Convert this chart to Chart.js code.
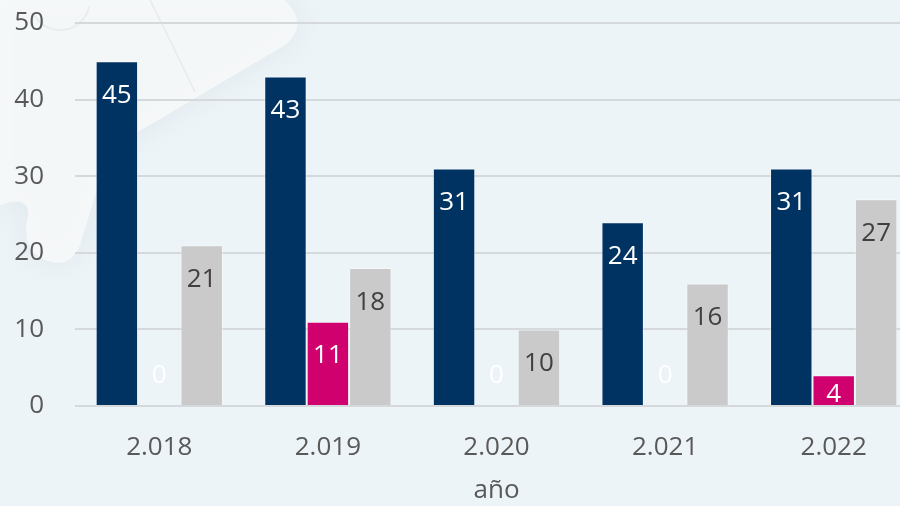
<!DOCTYPE html>
<html>
<head>
<meta charset="utf-8">
<script src="https://cdn.jsdelivr.net/npm/chart.js@4/dist/chart.umd.min.js"></script>
<style>
  html, body { margin: 0; padding: 0; width: 900px; height: 506px; overflow: hidden; background: #EDF4F8; }
  #wrap { width: 918px; height: 506px; }
</style>
</head>
<body>
<div id="wrap"><canvas id="c" width="918" height="506"></canvas></div>
<script>
const categories = ['2.018', '2.019', '2.020', '2.021', '2.022'];
const seriesNavy = [45, 43, 31, 24, 31];
const seriesMagenta = [0, 11, 0, 0, 4];
const seriesGray = [21, 18, 10, 16, 27];
const yTicks = [0, 10, 20, 30, 40, 50];
const axisTitle = 'año';

const FONT = '"Open Sans", "Noto Sans", sans-serif';

const bgPlugin = {
  id: 'bg',
  beforeDraw(chart) {
    const ctx = chart.ctx;
    ctx.save();
    ctx.fillStyle = '#EDF4F8';
    ctx.fillRect(0, 0, chart.width, chart.height);
    // faint puzzle piece top-left
    ctx.shadowColor = 'rgba(205,215,220,0.5)';
    ctx.shadowBlur = 30;
    ctx.fillStyle = 'rgba(249,250,250,0.8)';
    ctx.beginPath();
    ctx.moveTo(0, 0);
    ctx.lineTo(285, 0);
    ctx.quadraticCurveTo(310, 25, 285, 45);
    ctx.lineTo(150, 125);
    ctx.quadraticCurveTo(110, 145, 100, 180);
    ctx.lineTo(80, 245);
    ctx.quadraticCurveTo(70, 270, 45, 260);
    ctx.quadraticCurveTo(20, 250, 28, 215);
    ctx.quadraticCurveTo(30, 195, 0, 205);
    ctx.closePath();
    ctx.fill();
    ctx.shadowBlur = 0;
    ctx.strokeStyle = 'rgba(220,224,226,0.5)';
    ctx.lineWidth = 1.5;
    ctx.beginPath();
    ctx.moveTo(150, 0);
    ctx.quadraticCurveTo(175, 50, 195, 92);
    ctx.stroke();
    ctx.beginPath();
    ctx.arc(60, 0, 30, 0.2, 2.6);
    ctx.stroke();
    ctx.restore();
  }
};

const labelPlugin = {
  id: 'valLabels',
  afterDatasetsDraw(chart) {
    const ctx = chart.ctx;
    const base = chart.scales.y.getPixelForValue(0);
    ctx.save();
    ctx.font = '26px ' + FONT;
    ctx.textAlign = 'center';
    ctx.textBaseline = 'middle';
    chart.data.datasets.forEach((ds, di) => {
      const meta = chart.getDatasetMeta(di);
      meta.data.forEach((bar, i) => {
        const v = ds.data[i];
        let y;
        if (v === 0) y = base - 30;
        else y = Math.min(bar.y + 34, base - 11);
        ctx.fillStyle = ds.labelColor;
        ctx.fillText(String(v), bar.x, y);
      });
    });
    ctx.restore();
  }
};

new Chart(document.getElementById('c'), {
  type: 'bar',
  data: {
    labels: categories,
    datasets: [
      { label: 'A', data: seriesNavy, backgroundColor: '#003262', borderColor: 'rgba(255,255,255,0.35)', borderWidth: 1, labelColor: '#FFFFFF' },
      { label: 'B', data: seriesMagenta, backgroundColor: '#D0006F', borderColor: 'rgba(255,255,255,0.35)', borderWidth: 1, labelColor: '#FFFFFF' },
      { label: 'C', data: seriesGray, backgroundColor: '#CACACA', borderColor: 'rgba(255,255,255,0.35)', borderWidth: 1, labelColor: '#404040' }
    ]
  },
  options: {
    responsive: false,
    animation: false,
    devicePixelRatio: 1,
    layout: { padding: { top: 23, right: 0, bottom: 0, left: 0 } },
    datasets: { bar: { categoryPercentage: 0.755, barPercentage: 1.0 } },
    plugins: { legend: { display: false }, tooltip: { enabled: false } },
    scales: {
      x: {
        grid: { display: false, drawTicks: false },
        border: { display: false },
        ticks: { color: '#595959', font: { family: FONT, size: 26 }, padding: 26 },
        title: { display: true, text: axisTitle, color: '#595959', font: { family: FONT, size: 26 }, padding: { top: 0, bottom: 0 } },
        afterFit(s) { s.height = 100; s.paddingLeft = 0; s.paddingRight = 0; }
      },
      y: {
        min: 0, max: 50,
        afterBuildTicks(s) { s.ticks = yTicks.map(v => ({ value: v })); },
        grid: { color: '#D6D9DB', lineWidth: 2, drawTicks: false },
        border: { display: false },
        ticks: { color: '#595959', font: { family: FONT, size: 26 }, padding: 31 },
        afterFit(s) { s.width = 75; s.paddingTop = 0; s.paddingBottom = 0; }
      }
    }
  },
  plugins: [bgPlugin, labelPlugin]
});
</script>
</body>
</html>
